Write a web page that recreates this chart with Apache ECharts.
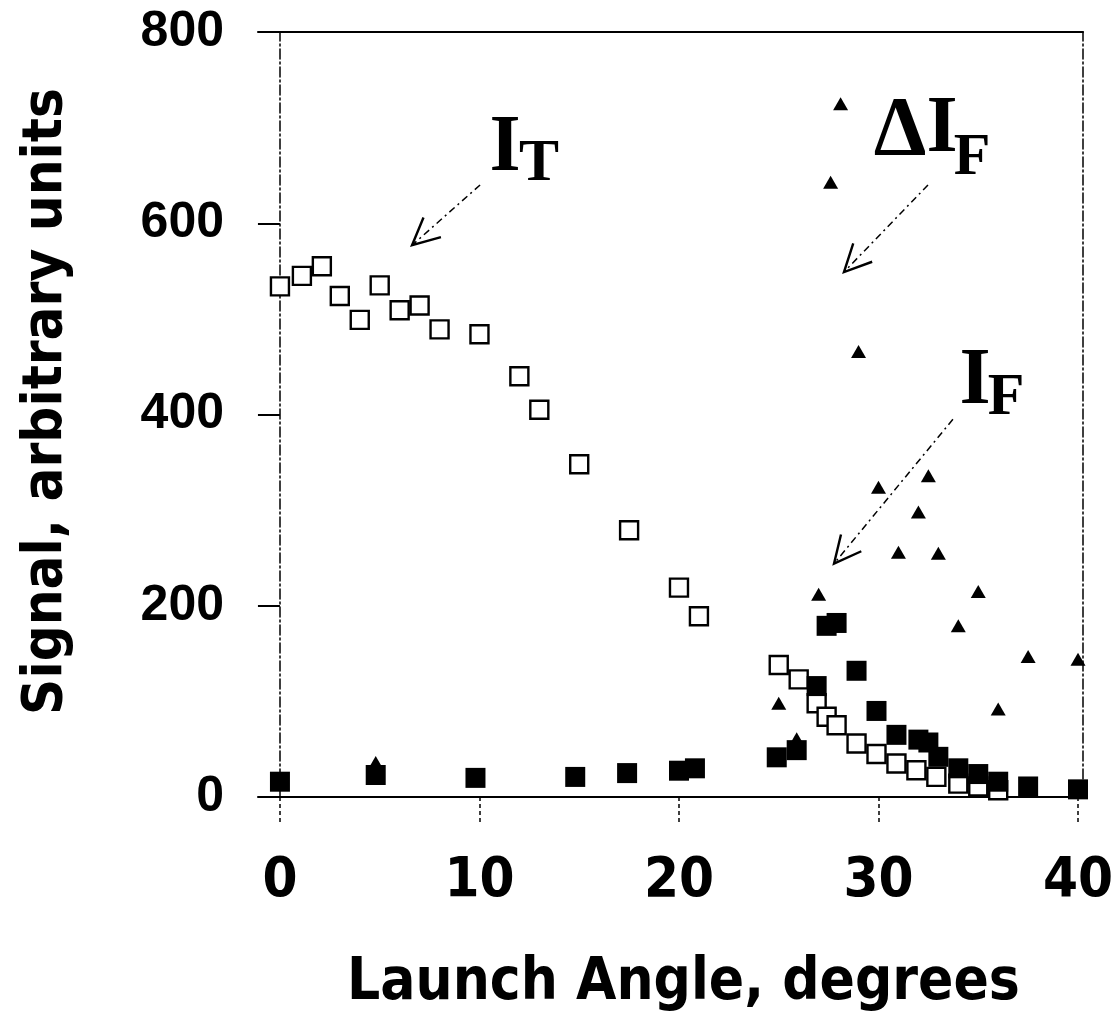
<!DOCTYPE html>
<html><head><meta charset="utf-8">
<script src="https://cdn.jsdelivr.net/npm/echarts@6/dist/echarts.min.js"></script>
<style>html,body{margin:0;padding:0;background:#fff}#c{width:1114px;height:1033px}</style>
</head><body><div id="c"></div>
<script>
// ---- data ----
const xTicks = [0, 10, 20, 30, 40];
const yTicks = [0, 200, 400, 600, 800];
// I_T (open squares)
const itAngle = [0, 1.1, 2.1, 3, 4, 5, 6, 7, 8, 10, 12, 13, 15, 17.5, 20, 21, 25, 26, 26.9, 27.4, 27.9, 28.9, 29.9, 30.9, 31.9, 32.9, 34, 35, 36];
const itValue = [534, 545, 555, 524, 499, 535, 509, 514, 489, 484, 440, 405, 348, 279, 219, 189, 138, 123, 98, 84, 75, 56, 45, 35, 28, 21, 14, 11, 7];
// I_F (filled squares)
const ifAngle = [0, 4.8, 9.8, 14.8, 17.4, 20, 20.8, 24.9, 25.9, 26.9, 27.4, 27.9, 28.9, 29.9, 30.9, 32, 32.5, 33, 34, 35, 36, 37.5, 40];
const ifValue = [16, 23, 20, 21, 25, 27.5, 30, 41.5, 49, 116, 179, 182, 132, 90, 65, 60, 57, 42, 30, 24, 16, 11, 8];
// Delta I_F (triangles)
const dfAngle = [4.8, 25, 25.9, 27, 27.6, 28.1, 29, 30, 31, 32, 32.5, 33, 34, 35, 36, 37.5, 40];
const dfValue = [36, 98, 61, 212, 643, 725, 466, 324, 256, 298, 336, 255, 179, 215, 92, 147, 144];

const narrow = "'Liberation Sans Narrow', 'DejaVu Sans Condensed', sans-serif";
const chart = echarts.init(document.getElementById('c'), null, {renderer: 'canvas'});
const zip = (a, b) => a.map((v, i) => [v, b[i]]);
const dashDot = [10, 3, 2, 3];

chart.setOption({
  animation: false,
  backgroundColor: '#fff',
  grid: {left: 258, right: 31, top: 32, bottom: 236, containLabel: false, outerBoundsMode: 'none'},
  xAxis: [{
    type: 'value', min: -1.1, max: 40.25, position: 'bottom',
    axisLine: {onZero: true, lineStyle: {color: '#000', width: 2}},
    axisTick: {show: true, inside: false, length: 26, customValues: xTicks, lineStyle: {color: '#000', width: 1.5, type: [4, 3]}},
    axisLabel: {customValues: xTicks, margin: 56, color: '#000', fontFamily: narrow, fontWeight: 'bold', fontSize: 56},
    splitLine: {show: false},
    name: 'Launch Angle, degrees', nameLocation: 'middle', nameGap: 158,
    nameTextStyle: {color: '#000', fontFamily: narrow, fontWeight: 'bold', fontSize: 58, padding: [0, 0, 0, 26]}
  }, {
    type: 'value', min: -1.1, max: 40.25, position: 'top',
    axisLine: {onZero: false, lineStyle: {color: '#000', width: 2}},
    axisTick: {show: false}, axisLabel: {show: false}, splitLine: {show: false}
  }],
  yAxis: [{
    type: 'value', min: 0, max: 800, interval: 200,
    axisLine: {show: true, onZero: true, onZeroAxisIndex: 0, lineStyle: {color: '#000', width: 1.5, type: dashDot}},
    axisTick: {show: true, inside: false, length: 22, lineStyle: {color: '#000', width: 2}},
    axisLabel: {margin: 34, color: '#000', fontFamily: "'Liberation Sans', Arial, sans-serif", fontWeight: 'bold', fontSize: 50,
      formatter: v => yTicks.includes(v) ? String(v) : ''},
    splitLine: {show: false},
    name: 'Signal, arbitrary units', nameLocation: 'middle', nameGap: 184,
    nameTextStyle: {color: '#000', fontFamily: narrow, fontWeight: 'bold', fontSize: 56, padding: [0, 0, 0, 26]}
  }, {
    type: 'value', min: 0, max: 800, position: 'right',
    axisLine: {show: true, onZero: false, lineStyle: {color: '#000', width: 1.5, type: dashDot}},
    axisTick: {show: false}, axisLabel: {show: false}, splitLine: {show: false}
  }],
  series: [{
    type: 'scatter', name: 'I_T', data: zip(itAngle, itValue),
    symbol: 'rect', symbolSize: 18,
    itemStyle: {color: '#fff', borderColor: '#000', borderWidth: 2.4, opacity: 1}
  }, {
    type: 'scatter', name: 'I_F', data: zip(ifAngle, ifValue),
    symbol: 'rect', symbolSize: 20,
    itemStyle: {color: '#000', opacity: 1}
  }, {
    type: 'scatter', name: 'ΔI_F', data: zip(dfAngle, dfValue),
    symbol: 'triangle', symbolSize: [15, 13],
    itemStyle: {color: '#000', opacity: 1}
  }]
});

// ---- annotations (arrows in data coordinates, labels in pixels) ----
const arrows = [
  {tail: [10.03, 640], tip: [6.62, 577]},
  {tail: [32.48, 640], tip: [28.27, 549]},
  {tail: [33.73, 395], tip: [27.77, 244]}
];
const serif = "'Liberation Serif', 'DejaVu Serif', serif";
const labels = [
  {t: 'I', x: 505, y: 149, s: 80},
  {t: 'T', x: 539, y: 164, s: 60},
  {t: 'Δ', x: 900, y: 133, s: 84},
  {t: 'I', x: 942, y: 130, s: 80},
  {t: 'F', x: 972, y: 158, s: 60},
  {t: 'I', x: 975, y: 382, s: 80},
  {t: 'F', x: 1006, y: 398, s: 60}
];
const conv = p => chart.convertToPixel({xAxisIndex: 0, yAxisIndex: 0}, p);
const graphics = [];
arrows.forEach(a => {
  const p0 = conv(a.tail), p1 = conv(a.tip);
  const ang = Math.atan2(p0[1] - p1[1], p0[0] - p1[0]);
  const L = 30, sp = 26 * Math.PI / 180;
  const w1 = [p1[0] + L * Math.cos(ang + sp), p1[1] + L * Math.sin(ang + sp)];
  const w2 = [p1[0] + L * Math.cos(ang - sp), p1[1] + L * Math.sin(ang - sp)];
  graphics.push({type: 'polyline', silent: true, shape: {points: [p0, p1]},
    style: {stroke: '#000', lineWidth: 1.5, lineDash: [7, 4, 2, 4], fill: null}});
  graphics.push({type: 'polyline', silent: true, shape: {points: [w1, p1, w2]},
    style: {stroke: '#000', lineWidth: 2.4, fill: null}});
});
labels.forEach(l => {
  graphics.push({type: 'text', silent: true, x: l.x, y: l.y,
    style: {text: l.t, fill: '#000', font: 'bold ' + l.s + 'px ' + serif, align: 'center', verticalAlign: 'middle'}});
});
chart.setOption({graphic: graphics});
</script>
</body></html>
